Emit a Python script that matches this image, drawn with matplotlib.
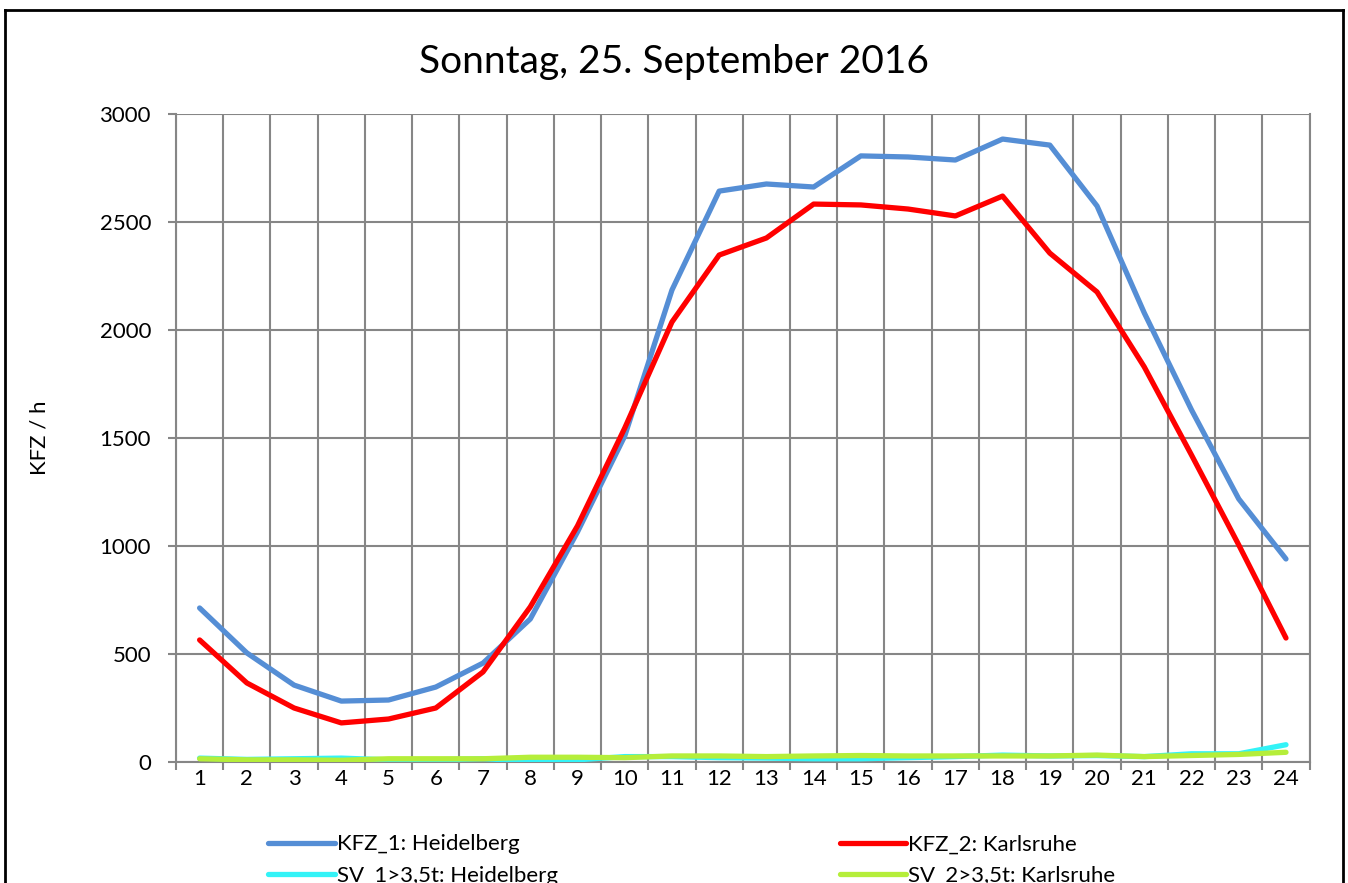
import matplotlib.pyplot as plt
from matplotlib.lines import Line2D

plt.rcParams['font.family'] = ['Lato', 'DejaVu Sans']

hours = list(range(1, 25))
kfz_1 = [713, 505, 356, 282, 287, 347, 458, 662, 1065, 1509, 2185, 2643,
         2676, 2662, 2806, 2801, 2787, 2884, 2856, 2574, 2079, 1630, 1218, 940]
kfz_2 = [565, 366, 250, 181, 199, 250, 417, 718, 1093, 1546, 2037, 2347,
         2426, 2583, 2579, 2560, 2528, 2620, 2356, 2176, 1829, 1421, 1005, 574]
sv_1 = [18, 12, 15, 18, 10, 10, 15, 5, 10, 25, 25, 20,
        18, 15, 15, 20, 25, 32, 28, 30, 25, 38, 38, 80]
sv_2 = [15, 10, 10, 8, 15, 15, 15, 22, 22, 20, 28, 28,
        25, 28, 30, 28, 28, 28, 28, 32, 25, 30, 35, 45]
labels = ["KFZ_1: Heidelberg", "KFZ_2: Karlsruhe",
          "SV_1>3,5t: Heidelberg", "SV_2>3,5t: Karlsruhe"]

fig = plt.figure(figsize=(13.48, 8.83), dpi=100)
ax = fig.add_axes([176 / 1348, 1 - 762 / 883, (1309.6 - 176) / 1348, (762 - 114) / 883])

grid_c = "#868686"
lw = 3.8
l1, = ax.plot(hours, kfz_1, color="#558ED5", lw=lw, solid_capstyle="round", zorder=3)
l2, = ax.plot(hours, kfz_2, color="#FF0000", lw=lw, solid_capstyle="round", zorder=4)
l3, = ax.plot(hours, sv_1, color="#33F3F7", lw=lw, solid_capstyle="round", zorder=5)
l4, = ax.plot(hours, sv_2, color="#B5EE3A", lw=lw, solid_capstyle="round", zorder=6)

ax.set_xlim(0.5, 24.5)
ax.set_ylim(0, 3000)
ax.set_yticks(range(0, 3001, 500))
ax.set_xticks(hours)
ax.set_xticks([h + 0.5 for h in range(0, 25)], minor=True)
ax.tick_params(axis="x", which="major", length=0, labelsize=16, pad=5)
ax.tick_params(axis="x", which="minor", length=6, width=1.5, color=grid_c)
ax.tick_params(axis="y", which="major", length=6, width=1.5, color=grid_c, labelsize=16, pad=12)
ax.grid(True, axis="y", which="major", color=grid_c, lw=1.5)
ax.grid(True, axis="x", which="minor", color=grid_c, lw=1.5)
for s in ax.spines.values():
    s.set_color(grid_c)
    s.set_linewidth(1.5)
ax.spines["top"].set_visible(False)
ax.set_ylabel("KFZ / h", fontsize=16, labelpad=36)
fig.text(0.5, 1 - 62 / 883, "Sonntag, 25. September 2016", fontsize=28,
         ha="center", va="center")

# legend rows are filled column by column, so order handles accordingly
ax.legend([l1, l3, l2, l4], [labels[0], labels[2], labels[1], labels[3]],
          ncol=2, frameon=False, fontsize=16,
          loc="upper left", bbox_to_anchor=(83 / 1133.6, -0.098),
          handlelength=3.0, handletextpad=0.1, columnspacing=12.68,
          labelspacing=0.5, borderaxespad=0)

# outer chart border
for xs, ys in [([5 / 1348, 5 / 1348], [0, 1 - 10 / 883]),
               ([5 / 1348, 1343 / 1348], [1 - 10 / 883, 1 - 10 / 883]),
               ([1343 / 1348, 1343 / 1348], [0, 1 - 10 / 883])]:
    fig.add_artist(Line2D(xs, ys, color="black", lw=2))

fig.savefig("out.png", dpi=100)
